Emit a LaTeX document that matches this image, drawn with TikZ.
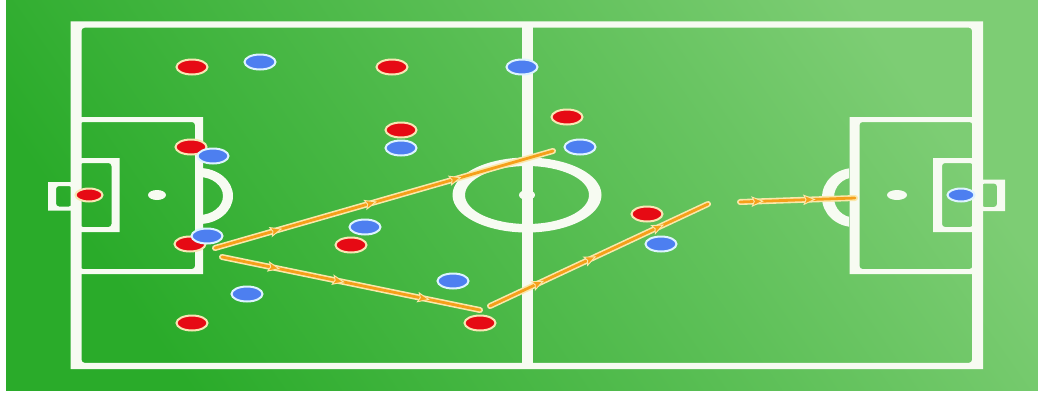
\documentclass[tikz,border=0pt]{standalone}
\usetikzlibrary{shapes.geometric,decorations.markings}
\definecolor{gdark}{HTML}{2AAB2A}
\definecolor{glight}{HTML}{7DCD74}
\definecolor{chalk}{HTML}{F7FBF2}
\definecolor{pred}{HTML}{E60A14}
\definecolor{predb}{HTML}{F8E6B4}
\definecolor{pblue}{HTML}{4D7FF0}
\definecolor{pblueb}{HTML}{DDF3FF}
\definecolor{porange}{HTML}{F5A01A}
\definecolor{pcream}{HTML}{FBE8AA}
\newcommand\pframe[6]{%
  \fill[chalk,even odd rule] (#1-#5,#2-#6) rectangle (#3+#5,#4+#6)
    [rounded corners=3pt] (#1+#5,#2+#6) rectangle (#3-#5,#4-#6);}
\tikzset{
  redp/.style={ellipse,fill=pred,draw=predb,line width=2pt,minimum width=31pt,minimum height=15pt,inner sep=0pt},
  bluep/.style={ellipse,fill=pblue,draw=pblueb,line width=2pt,minimum width=31pt,minimum height=15pt,inner sep=0pt},
  keeper/.style={minimum width=27pt,minimum height=13pt},
  tri/.style={fill=porange,draw=pcream,line width=0.9pt},
  passline/.style={pcream,line width=6pt,line cap=round,
    postaction={draw=porange,line width=2.8pt},
    postaction={decorate}},
}
\begin{document}
\begin{tikzpicture}[x=1pt,y=-1pt]
\useasboundingbox (0,0) rectangle (1038,394);
\fill[white] (0,0) rectangle (1038,394);
\shade[top color=glight,bottom color=gdark,shading angle=-55] (6,0) rectangle (1038,390);
% pitch markings
\pframe{76}{24.5}{977.5}{366}{5.5}{3.2}
\fill[chalk] (522,25) rectangle (533,366);
\pframe{76}{119.5}{199}{271.5}{4}{2.5}
\pframe{76}{160.5}{115.5}{229.5}{4}{2.5}
\pframe{52}{184}{76}{208.5}{4}{2}
\pframe{854.5}{119.5}{977.5}{271.5}{5}{2.5}
\pframe{937.5}{160.5}{977.5}{229.5}{4.5}{2.5}
\pframe{977.5}{181.5}{1001}{209}{4}{2}
\fill[chalk,even odd rule] (527,195) ellipse [x radius=74.5,y radius=37.5] (527,195) ellipse [x radius=62,y radius=29];
\fill[chalk] (527,195) ellipse [x radius=8,y radius=5];
\fill[chalk] (157,195) ellipse [x radius=9,y radius=5];
\fill[chalk] (897,195) ellipse [x radius=10,y radius=5];
\begin{scope}
  \clip (203,150) rectangle (260,245);
  \fill[chalk,even odd rule] (199,196) ellipse [x radius=34,y radius=28] (199,196) ellipse [x radius=24,y radius=19];
\end{scope}
\begin{scope}
  \clip (780,150) rectangle (849,245);
  \fill[chalk,even odd rule] (854,197.5) ellipse [x radius=32,y radius=29.5] (854,197.5) ellipse [x radius=20,y radius=20];
\end{scope}
% passes
\coordinate (a1) at (215,248); \coordinate (a2) at (553,151);
\coordinate (b1) at (222,257); \coordinate (b2) at (480,310);
\coordinate (c1) at (490,306); \coordinate (c2) at (708,204);
\coordinate (d1) at (740,202); \coordinate (d2) at (855,198);
\def\tip{\fill[tri] (5.5,0) -- (-5,4.5) -- (-3,0) -- (-5,-4.5) -- cycle;}
\draw[passline,decoration={markings,mark=at position 0.18 with {\tip},mark=at position 0.46 with {\tip},mark=at position 0.71 with {\tip}}] (a1) -- (a2);
\draw[passline,decoration={markings,mark=at position 0.2 with {\tip},mark=at position 0.45 with {\tip},mark=at position 0.78 with {\tip}}] (b1) -- (b2);
\draw[passline,decoration={markings,mark=at position 0.22 with {\tip},mark=at position 0.46 with {\tip},mark=at position 0.77 with {\tip}}] (c1) -- (c2);
\draw[passline,decoration={markings,mark=at position 0.15 with {\tip},mark=at position 0.6 with {\tip}}] (d1) -- (d2);
% red team
\node[redp] (r1) at (192,67) {};
\node[redp] (r2) at (392,67) {};
\node[redp] (r3) at (401,130) {};
\node[redp] (r4) at (191,147) {};
\node[redp,keeper] (r5) at (89,195) {};
\node[redp] (r6) at (190,244) {};
\node[redp] (r7) at (351,245) {};
\node[redp] (r8) at (567,117) {};
\node[redp] (r9) at (647,214) {};
\node[redp] (r10) at (480,323) {};
\node[redp] (r11) at (192,323) {};
% blue team
\node[bluep] (u1) at (260,62) {};
\node[bluep] (u2) at (522,67) {};
\node[bluep] (u3) at (401,148) {};
\node[bluep] (u4) at (213,156) {};
\node[bluep] (u5) at (207,236) {};
\node[bluep] (u6) at (365,227) {};
\node[bluep] (u7) at (580,147) {};
\node[bluep] (u8) at (661,244) {};
\node[bluep] (u9) at (453,281) {};
\node[bluep] (u10) at (247,294) {};
\node[bluep,keeper] (u11) at (961,195) {};
\end{tikzpicture}
\end{document}
